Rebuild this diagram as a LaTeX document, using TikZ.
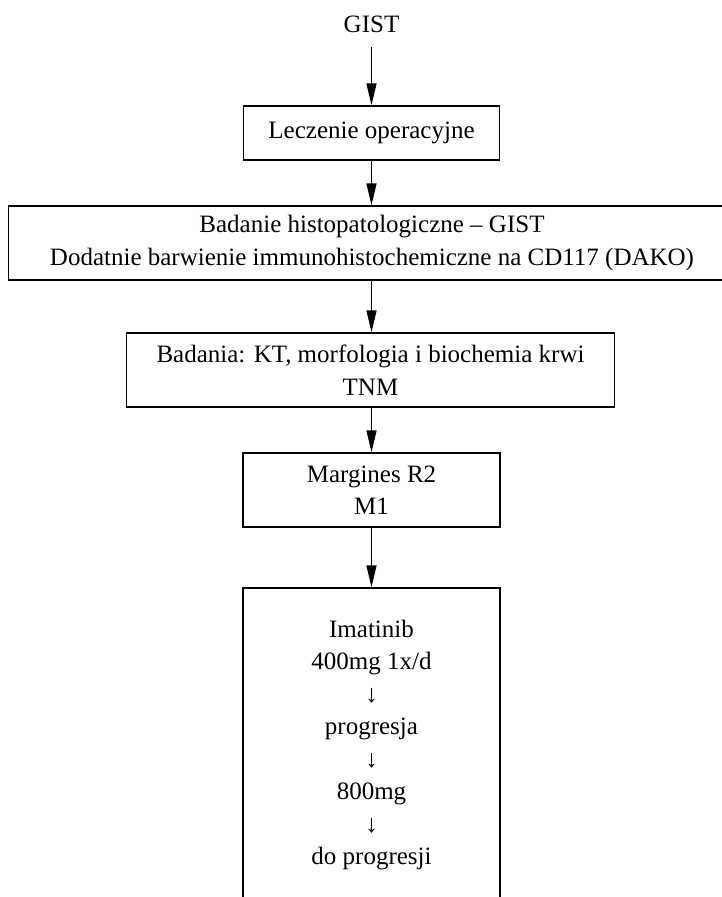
\documentclass[tikz,border=0pt]{standalone}
\usepackage{fontspec}
\setmainfont{Liberation Serif}
\usetikzlibrary{arrows.meta}
\begin{document}
\begin{tikzpicture}[x=1pt,y=-1pt,
  box/.style={draw, line width=1.4pt, inner sep=0pt, align=center,
    font=\fontsize{25}{32.5}\selectfont},
  lbl/.style={inner sep=0pt, font=\fontsize{25}{32.5}\selectfont},
  arr/.style={line width=1.4pt, -{Triangle[length=22pt,width=10pt]}}]
\useasboundingbox (0,0) rectangle (722,897);
\clip (0,0) rectangle (722,897);
\node[lbl] (gist) at (371.5,24) {GIST};
\node[box, minimum width=256pt, minimum height=54pt] (b1) at (371.5,133) {Leczenie operacyjne};
\node[box, minimum width=727pt, minimum height=74pt] (b2) at (372,243)
  {Badanie histopatologiczne – GIST\\Dodatnie barwienie immunohistochemiczne na CD117 (DAKO)};
\node[box, minimum width=488pt, minimum height=74pt] (b3) at (370.5,370)
  {Badania: KT, morfologia i biochemia krwi\\TNM};
\node[box, minimum width=257pt, minimum height=74pt] (b4) at (371.5,490)
  {Margines R2\\M1};
\node[box, minimum width=257pt, minimum height=314pt] (b5) at (371.5,745)
  {Imatinib\\400mg 1x/d\\↓\\progresja\\↓\\800mg\\↓\\do progresji};
\coordinate (g0) at (371.5,47);
\draw[arr] (g0) -- (g0 |- b1.north);
\draw[arr] (b1.south -| g0) -- (b2.north -| g0);
\draw[arr] (b2.south -| g0) -- (b3.north -| g0);
\draw[arr] (b3.south -| g0) -- (b4.north -| g0);
\draw[arr] (b4.south -| g0) -- (b5.north -| g0);
\end{tikzpicture}
\end{document}
